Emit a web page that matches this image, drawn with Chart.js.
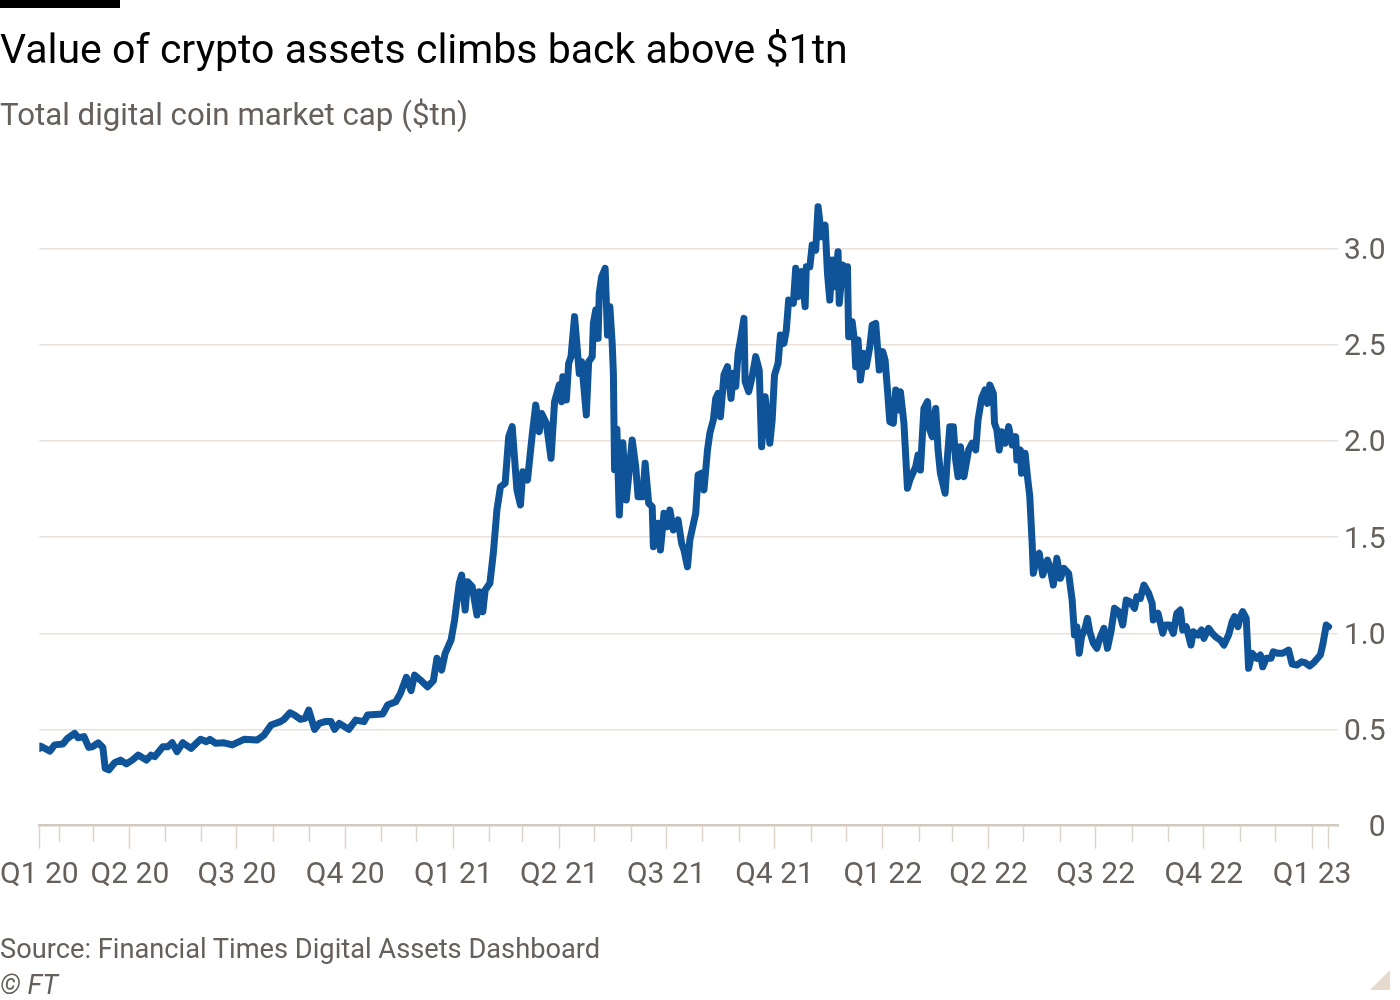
<!DOCTYPE html>
<html>
<head>
<meta charset="utf-8">
<script src="https://cdn.jsdelivr.net/npm/chart.js@4.4.1/dist/chart.umd.min.js"></script>
<style>
  html, body { margin:0; padding:0; background:#fff; width:1400px; height:1000px; overflow:hidden; font-family: Roboto, sans-serif; }
  #wrap { position:absolute; left:-9px; top:0; width:1409px; height:1000px; }
  .t { position:absolute; left:0; white-space:nowrap; line-height:normal; font-family: Roboto, sans-serif; }
  #bar { position:absolute; left:0; top:0; width:120px; height:8px; background:#000; }
  #title { color:#000; }
  #sub, #src, #ft { color:#66605c; }
  #ft { font-style:italic; }
  #corner { position:absolute; left:1370px; top:970px; width:0; height:0;
            border-left:20px solid transparent; border-bottom:20px solid #e6d9ce; }
</style>
</head>
<body>
<div id="bar"></div>
<div id="wrap"><canvas id="c"></canvas></div>
<div id="title" class="t"></div>
<div id="sub" class="t"></div>
<div id="src" class="t"></div>
<div id="ft" class="t"></div>
<div id="corner"></div>
<script>
// ---------------- data ----------------
const startDate = '2020-01-15';            // day 0 of the series
const dayIndex = [0,1,9,13,20,24,30,33,38,42,45,50,54,56,59,64,69,74,79,84,91,95,98,105,109,113,117,122,129,137,
142,145,150,157,164,174,185,191,197,205,208,213,217,222,226,229,234,238,243,248,251,255,263,269,276,279,292,296,303,307,
312,316,319,324,330,335,338,342,345,350,353,357,359,362,364,368,372,374,377,379,383,386,389,392,396,399,402,406,409,411,
415,419,422,425,427,431,435,438,442,444,445,448,450,452,455,459,461,465,467,470,471,473,475,476,478,481,483,485,487,488,
489,491,493,496,499,504,507,509,513,515,518,521,522,526,528,531,534,536,539,543,546,548,551,553,558,560,563,565,568,570,
573,575,577,579,582,585,588,590,592,594,596,599,600,603,606,609,612,614,617,621,623,625,628,630,633,635,637,641,643,645,
648,651,652,655,657,660,662,665,668,670,672,674,676,679,680,683,685,687,688,691,693,694,696,698,701,703,706,708,711,714,
717,719,721,723,726,728,730,732,735,738,740,745,747,749,752,755,757,759,762,764,766,770,772,774,777,779,781,783,786,790,
793,796,798,801,804,806,808,811,812,814,816,818,821,824,827,830,831,834,835,838,840,842,844,845,848,850,853,857,859,862,
865,868,871,875,878,880,882,884,886,889,891,893,896,899,902,905,908,911,914,918,921,924,927,931,933,936,939,943,946,947,
951,955,957,961,964,967,970,972,975,979,981,985,988,990,994,997,1000,1004,1007,1011,1014,1016,1019,1021,1023,1026,1028,1031,1035,1038,
1040,1043,1047,1049,1053,1057,1062,1065,1069,1073,1076,1080,1084,1089,1091,1094,1096];
const marketCapTn = [0.402,0.414,0.388,0.42,0.425,0.454,0.48,0.457,0.463,0.407,0.41,0.431,0.407,0.298,0.29,0.327,0.341,0.321,0.341,0.367,0.341,0.367,0.359,0.41,0.41,0.431,0.385,0.431,0.402,0.449,
0.437,0.449,0.428,0.431,0.42,0.449,0.445,0.471,0.523,0.541,0.553,0.587,0.575,0.553,0.558,0.601,0.501,0.532,0.541,0.541,0.501,0.532,0.501,0.549,0.541,0.575,0.581,0.627,0.644,0.688,
0.771,0.702,0.783,0.757,0.722,0.754,0.87,0.809,0.896,0.965,1.069,1.26,1.303,1.121,1.268,1.242,1.095,1.216,1.112,1.225,1.26,1.42,1.641,1.762,1.78,2.022,2.074,1.745,1.667,1.84,
1.797,2.031,2.187,2.048,2.143,2.092,1.91,2.204,2.291,2.204,2.334,2.213,2.403,2.438,2.646,2.351,2.412,2.135,2.412,2.438,2.611,2.68,2.533,2.767,2.853,2.897,2.55,2.698,2.507,2.351,
1.85,2.06,1.615,1.991,1.693,2.005,1.866,1.71,1.71,1.884,1.676,1.658,1.45,1.572,1.433,1.624,1.554,1.641,1.537,1.589,1.468,1.433,1.346,1.485,1.624,1.823,1.832,1.745,1.953,2.04,
2.109,2.221,2.247,2.126,2.343,2.386,2.221,2.351,2.282,2.455,2.524,2.637,2.308,2.256,2.334,2.438,2.368,1.97,2.23,1.988,2.109,2.343,2.403,2.55,2.507,2.576,2.732,2.715,2.897,2.749,
2.88,2.698,2.905,2.905,3.018,2.992,3.217,3.061,3.122,2.871,2.732,2.94,2.801,2.983,2.715,2.914,2.819,2.905,2.542,2.62,2.516,2.386,2.524,2.317,2.455,2.386,2.49,2.602,2.611,2.368,
2.464,2.42,2.265,2.1,2.092,2.265,2.161,2.256,2.092,1.754,1.797,1.866,1.927,1.849,2.169,2.204,2.057,2.022,2.169,1.953,1.832,1.728,1.918,2.074,2.074,1.901,1.814,1.97,1.814,1.953,
1.988,1.953,2.109,2.221,2.265,2.195,2.291,2.247,2.092,2.057,1.953,2.048,1.988,2.074,1.979,2.022,1.901,1.953,1.832,1.936,1.814,1.71,1.468,1.312,1.398,1.416,1.303,1.381,1.346,1.251,
1.39,1.286,1.338,1.312,1.173,0.991,1.034,0.896,0.982,1.026,1.078,1.008,0.948,0.922,0.982,1.026,0.922,1.008,1.13,1.112,1.043,1.173,1.164,1.13,1.19,1.182,1.251,1.208,1.156,1.069,
1.104,1.0,1.043,1.043,1.0,1.104,1.121,1.017,1.034,0.939,1.008,0.991,1.017,0.974,1.026,1.0,0.982,0.965,0.939,0.991,1.06,1.086,1.034,1.086,1.112,1.078,0.818,0.896,0.87,0.887,
0.826,0.87,0.87,0.904,0.896,0.896,0.913,0.84,0.835,0.852,0.847,0.83,0.852,0.887,0.939,1.043,1.034];

const quarterTickDays = [0,77,168,260,352,442,533,625,717,807,898,990,1082,1096];
const quarterTickLabels = ['Q1 20','Q2 20','Q3 20','Q4 20','Q1 21','Q2 21','Q3 21','Q4 21','Q1 22','Q2 22','Q3 22','Q4 22','Q1 23',''];
const monthTickDays = [17,46,107,138,199,230,291,321,383,411,472,503,564,595,656,686,748,776,837,868,929,960,1021,1051];
const yTickValues = [0,0.5,1,1.5,2,2.5,3];
const xMaxDay = 1104;
const yMax = 3.3;

// ---------------- texts ----------------
const texts = {
  title: 'Value of crypto assets climbs back above $1tn',
  sub: 'Total digital coin market cap ($tn)',
  src: 'Source: Financial Times Digital Assets Dashboard',
  ft: '\u00A9 FT'
};
function place(id, size, baseline, targetWidth, italic) {
  const el = document.getElementById(id);
  el.textContent = texts[id];
  const ctx = document.createElement('canvas').getContext('2d');
  const st = italic ? 'italic ' : '';
  ctx.font = st + size + 'px Roboto';
  if (targetWidth) {
    const w = ctx.measureText(texts[id]).width;
    size = size * targetWidth / w;
    ctx.font = st + size + 'px Roboto';
  }
  const m = ctx.measureText(texts[id]);
  el.style.fontSize = size + 'px';
  const asc = m.fontBoundingBoxAscent || size * 0.928;
  el.style.top = (baseline - asc) + 'px';
  return size;
}
place('title', 41, 63, 848, false);
place('sub', 31, 125, 468, false);
const srcSize = place('src', 28, 958, 601, false);
place('ft', srcSize, 994, 0, true);

// ---------------- chart ----------------
const tickFont = { family: 'Roboto', size: 30 };
const labelColor = '#66605c';
const gridColor = '#e9e1d9';

const chart = new Chart(document.getElementById('c'), {
  type: 'line',
  data: {
    datasets: [{
      label: 'Total digital coin market cap ($tn)',
      data: dayIndex.map((d, i) => ({ x: d, y: marketCapTn[i] })),
      borderColor: '#0f5499',
      borderWidth: 7,
      pointRadius: 0,
      tension: 0,
      borderJoinStyle: 'round',
      borderCapStyle: 'round',
      xAxisID: 'x',
      yAxisID: 'y'
    }]
  },
  options: {
    responsive: true,
    maintainAspectRatio: false,
    animation: false,
    layout: { padding: { top: 190, bottom: 100, left: 47, right: 19 } },
    plugins: { legend: { display: false }, tooltip: { enabled: false } },
    scales: {
      x: {
        type: 'linear', position: 'bottom', min: 0, max: xMaxDay,
        afterBuildTicks: (s) => { s.ticks = quarterTickDays.map(v => ({ value: v })); },
        ticks: {
          autoSkip: false, maxRotation: 0, minRotation: 0, padding: 9,
          font: tickFont, color: labelColor,
          callback: (v) => { const i = quarterTickDays.indexOf(v); return i >= 0 ? quarterTickLabels[i] : ''; }
        },
        grid: { drawOnChartArea: false, drawTicks: true, tickLength: 23, tickColor: '#dcd3ca', tickWidth: 1.5 },
        border: { display: true, color: '#d3c9bf', width: 2.5 }
      },
      xm: {
        type: 'linear', axis: 'x', position: { y: 0 }, min: 0, max: xMaxDay,
        afterBuildTicks: (s) => { s.ticks = monthTickDays.map(v => ({ value: v })); },
        ticks: { display: false, autoSkip: false },
        grid: { drawOnChartArea: false, drawTicks: true, tickLength: 16, tickColor: '#dcd3ca', tickWidth: 1.5 },
        border: { display: false }
      },
      y: {
        type: 'linear', position: 'right', min: 0, max: yMax,
        afterBuildTicks: (s) => { s.ticks = yTickValues.map(v => ({ value: v })); },
        ticks: {
          padding: 3, crossAlign: 'far', labelOffset: 3, font: tickFont, color: labelColor,
          callback: (v) => v === 0 ? '0' : v.toFixed(1)
        },
        grid: {
          drawTicks: false, lineWidth: 1.5,
          color: (ctx) => (ctx.tick && ctx.tick.value === 0) ? 'rgba(0,0,0,0)' : gridColor
        },
        border: { display: false }
      }
    }
  }
});

// nudge padding so that the plot area lands where the reference has it (canvas is shifted 9px left)
const target = { left: 47.3, right: 1347, top: 190.8, bottom: 825.7 };
for (let k = 0; k < 3; k++) {
  const a = chart.chartArea, p = chart.options.layout.padding;
  p.top = Math.max(0, p.top + (target.top - a.top));
  p.bottom = Math.max(0, p.bottom + (a.bottom - target.bottom));
  p.left = Math.max(0, p.left + (target.left - a.left));
  p.right = Math.max(0, p.right + (a.right - target.right));
  chart.update('none');
}
</script>
</body>
</html>
